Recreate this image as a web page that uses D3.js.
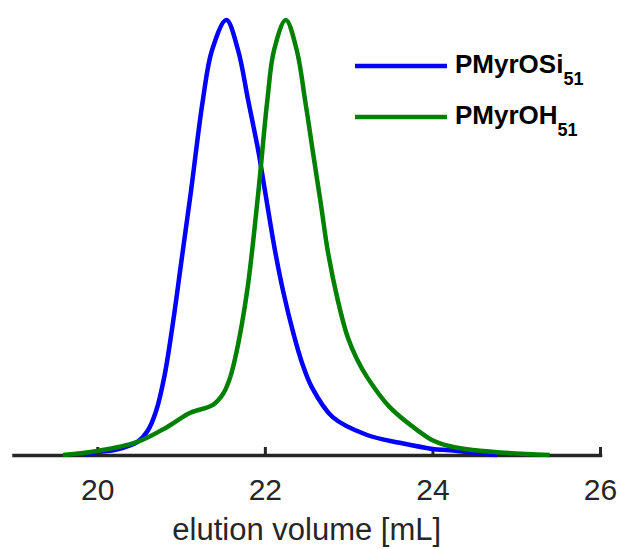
<!DOCTYPE html>
<html>
<head>
<meta charset="utf-8">
<script src="https://cdn.jsdelivr.net/npm/d3@7"></script>
<style>
  body { margin: 0; background: #fff; }
  text { font-family: "Liberation Sans", Arial, Helvetica, sans-serif; }
</style>
</head>
<body>
<div id="chart"></div>
<script>
// elution volume [mL] and normalised signal
const volOSi = [19.85, 20.0, 20.12, 20.30, 20.48, 20.60, 20.70, 20.80, 20.90, 21.0, 21.12, 21.26, 21.37, 21.54,
  21.68, 21.80, 21.92, 22.0, 22.12, 22.22, 22.34, 22.44, 22.56, 22.81, 23.22, 23.61, 24.0, 24.21, 24.77];
const sigOSi = [0, 0.007, 0.009, 0.016, 0.03, 0.055, 0.10, 0.18, 0.30, 0.44, 0.609, 0.816, 0.931, 1.0,
  0.931, 0.816, 0.701, 0.609, 0.471, 0.375, 0.28, 0.214, 0.156, 0.087, 0.046, 0.028, 0.014, 0.011, 0];

const volOH = [19.59, 20.0, 20.48, 20.83, 21.11, 21.38, 21.50, 21.58, 21.66, 21.79, 21.92, 22.03, 22.11, 22.25,
  22.38, 22.48, 22.57, 22.67, 22.75, 22.87, 22.99, 23.10, 23.22, 23.49, 23.82, 24.0, 24.21, 24.41, 24.81, 25.40];
const sigOH = [0, 0.009, 0.03, 0.064, 0.097, 0.115, 0.14, 0.175, 0.235, 0.379, 0.6, 0.816, 0.931, 1.0,
  0.931, 0.816, 0.701, 0.575, 0.47, 0.356, 0.27, 0.22, 0.179, 0.11, 0.057, 0.034, 0.02, 0.013, 0.006, 0];

const seriesNames = ["PMyrOSi", "PMyrOH"];
const subscripts = ["51", "51"];
const xTicks = [20, 22, 24, 26];
const xLabel = "elution volume [mL]";

const W = 617, H = 549;
const colors = ["#0000ff", "#008000"];

const svg = d3.select("#chart").append("svg")
  .attr("width", W)
  .attr("height", H);

const x = d3.scaleLinear().domain([19, 26]).range([13.5, 600]);
const y = d3.scaleLinear().domain([0, 1]).range([455, 20]);

// axis first, curves drawn on top of it
const axis = svg.append("g")
  .attr("transform", `translate(0,${y(0)})`)
  .call(d3.axisBottom(x)
    .tickValues(xTicks)
    .tickSizeInner(-8)
    .tickSizeOuter(0)
    .tickPadding(24)
    .tickFormat(d3.format("d")));

axis.select(".domain")
  .attr("stroke", "#262626")
  .attr("stroke-width", 3.5)
  .attr("stroke-linecap", "square");
axis.selectAll(".tick line")
  .attr("stroke", "#262626")
  .attr("stroke-width", 3);
axis.selectAll(".tick text")
  .attr("fill", "#262626")
  .style("font-size", "30px");

svg.append("text")
  .attr("x", (x.range()[0] + x.range()[1]) / 2)
  .attr("y", 540)
  .attr("text-anchor", "middle")
  .attr("fill", "#262626")
  .style("font-size", "31px")
  .text(xLabel);

const series = [
  { name: seriesNames[0], sub: subscripts[0], values: volOSi.map((v, i) => ({ v, s: sigOSi[i] })) },
  { name: seriesNames[1], sub: subscripts[1], values: volOH.map((v, i) => ({ v, s: sigOH[i] })) }
];

const line = d3.line()
  .x(d => x(d.v))
  .y(d => y(d.s))
  .curve(d3.curveCatmullRom.alpha(0.5));

svg.selectAll(".curve")
  .data(series)
  .join("path")
  .attr("class", "curve")
  .attr("fill", "none")
  .attr("stroke", (d, i) => colors[i])
  .attr("stroke-width", 4.5)
  .attr("stroke-linejoin", "round")
  .attr("d", d => line(d.values));

// legend
const legend = svg.append("g");
const rows = legend.selectAll("g")
  .data(series)
  .join("g")
  .attr("transform", (d, i) => `translate(0,${66 + i * 51})`);

rows.append("line")
  .attr("x1", 355)
  .attr("x2", 447)
  .attr("stroke", (d, i) => colors[i])
  .attr("stroke-width", 4.5);

const label = rows.append("text")
  .attr("x", 455)
  .attr("y", 7)
  .attr("fill", "#000")
  .style("font-size", "26px")
  .style("font-weight", "bold");
label.append("tspan").text(d => d.name);
label.append("tspan")
  .attr("dy", 12)
  .style("font-size", "18px")
  .text(d => d.sub);
</script>
</body>
</html>
